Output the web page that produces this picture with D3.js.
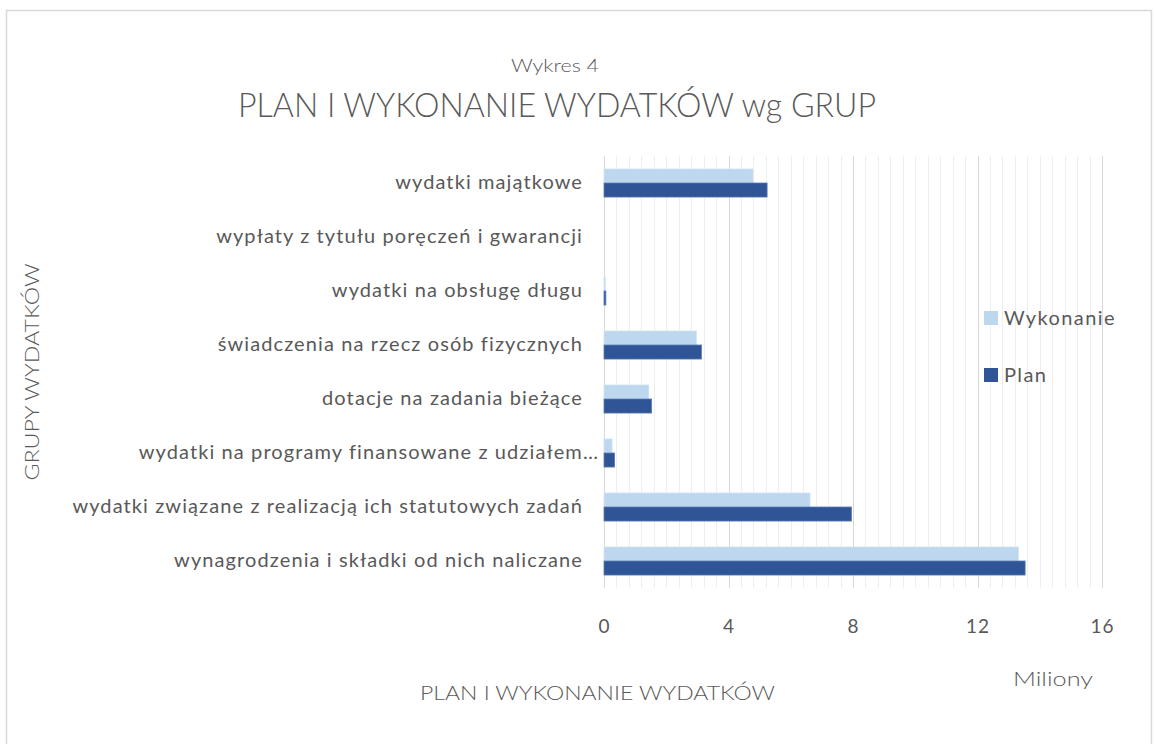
<!DOCTYPE html>
<html><head><meta charset="utf-8">
<script src="https://cdn.jsdelivr.net/npm/d3@7"></script>
<style>
html,body{margin:0;padding:0;background:#fff;}
svg text{font-family:Lato,"Open Sans",sans-serif;fill:#595959;}
</style></head>
<body>
<svg id="c" width="1155" height="744"></svg>
<script>
const categories = [
  "wydatki majątkowe",
  "wypłaty z tytułu poręczeń i gwarancji",
  "wydatki na obsługę długu",
  "świadczenia na rzecz osób fizycznych",
  "dotacje na zadania bieżące",
  "wydatki na programy finansowane z udziałem…",
  "wydatki związane z realizacją ich statutowych zadań",
  "wynagrodzenia i składki od nich naliczane"
];
const seriesNames = ["Wykonanie", "Plan"];
const wykonanie = [4.79, 0, 0.04, 2.97, 1.44, 0.26, 6.62, 13.32];
const plan      = [5.24, 0, 0.06, 3.13, 1.53, 0.34, 7.95, 13.53];
const xTicks = [0, 4, 8, 12, 16];
const colors = {Wykonanie: "#BDD7EE", Plan: "#2F5597"};

const svg = d3.select("#c");
// frame
svg.append("rect").attr("x",6.5).attr("y",10.5).attr("width",1145).attr("height",760)
  .attr("fill","#fff").attr("stroke","#d9d9d9").attr("stroke-width",1.5);

const x = d3.scaleLinear().domain([0,16]).range([604,1102]);
const y = d3.scaleBand().domain(categories).range([156,588]).paddingInner(0.48).paddingOuter(0.24);
const ys = d3.scaleBand().domain(seriesNames).range([0, y.bandwidth()]);

// minor gridlines
const minor = d3.range(0, 16.0001, 0.4);
svg.append("g").selectAll("line").data(minor).join("line")
  .attr("x1",d=>Math.round(x(d))+0.5).attr("x2",d=>Math.round(x(d))+0.5)
  .attr("y1",156).attr("y2",588).attr("stroke","#eeeeee").attr("stroke-width",1);
// major gridlines
svg.append("g").selectAll("line").data(xTicks).join("line")
  .attr("x1",d=>Math.round(x(d))+0.5).attr("x2",d=>Math.round(x(d))+0.5)
  .attr("y1",156).attr("y2",588).attr("stroke","#d9d9d9").attr("stroke-width",1);

// bars
const rows = categories.map((c,i)=>({cat:c, vals:[{s:"Wykonanie",v:wykonanie[i]},{s:"Plan",v:plan[i]}]}));
const g = svg.append("g").selectAll("g").data(rows).join("g")
  .attr("transform", d=>`translate(0,${y(d.cat)})`);
g.selectAll("rect").data(d=>d.vals).join("rect")
  .attr("x", x(0)).attr("y", d=>ys(d.s))
  .attr("width", d=>x(d.v)-x(0)).attr("height", ys.bandwidth())
  .attr("fill", d=>colors[d.s])
  .attr("stroke", d=>d.v>0 ? (d.s==="Plan" ? "#5a7bb5" : "#d3e4f4") : "none")
  .attr("stroke-width", 0.8);

// x axis
const xAxis = d3.axisBottom(x).tickValues(xTicks).tickSize(0).tickFormat(d3.format("d"));
const xa = svg.append("g").attr("transform","translate(0,616)").call(xAxis);
xa.select(".domain").remove();
xa.selectAll("text").attr("font-size",19).attr("dy","0.71em").attr("letter-spacing",1).style("fill","#595959");

// y axis (category labels)
const yAxis = d3.axisLeft(y).tickSize(0).tickPadding(0);
const ya = svg.append("g").attr("transform","translate(583,0)").call(yAxis);
ya.select(".domain").remove();
ya.selectAll("text").attr("font-size",20).style("fill","#595959")
  .attr("letter-spacing",1.1)
  .attr("dy","0.32em")
  .attr("dx", d => d.endsWith("…") ? 16 : 0);

// titles
svg.append("text").attr("x",555).attr("y",72).attr("text-anchor","middle")
  .attr("font-size",18).attr("font-weight",300)
  .attr("textLength",88).attr("lengthAdjust","spacingAndGlyphs")
  .text("Wykres 4");
svg.append("text").attr("x",557).attr("y",117).attr("text-anchor","middle")
  .attr("font-size",34).attr("font-weight",300)
  .attr("textLength",638).attr("lengthAdjust","spacingAndGlyphs")
  .text("PLAN I WYKONANIE WYDATKÓW wg GRUP");

// y axis title
svg.append("text").attr("transform","translate(39,372) rotate(-90)").attr("text-anchor","middle")
  .attr("font-size",19).attr("font-weight",300)
  .attr("textLength",217).attr("lengthAdjust","spacingAndGlyphs")
  .text("GRUPY WYDATKÓW");

// x axis title
svg.append("text").attr("x",420).attr("y",700)
  .attr("font-size",19).attr("font-weight",300)
  .attr("textLength",355).attr("lengthAdjust","spacingAndGlyphs")
  .text("PLAN I WYKONANIE WYDATKÓW");

// units label
svg.append("text").attr("x",1013).attr("y",686)
  .attr("font-size",20).attr("font-weight",300)
  .attr("textLength",80).attr("lengthAdjust","spacingAndGlyphs")
  .text("Miliony");

// legend
const leg = svg.append("g").selectAll("g").data(seriesNames).join("g")
  .attr("transform",(d,i)=>`translate(984,${311 + i*57})`);
leg.append("rect").attr("width",14).attr("height",14).attr("fill",d=>colors[d]);
leg.append("text").attr("x",20).attr("y",7).attr("dy","0.35em").attr("font-size",20)
  .attr("letter-spacing",1.4).text(d=>d);
</script>
</body></html>
